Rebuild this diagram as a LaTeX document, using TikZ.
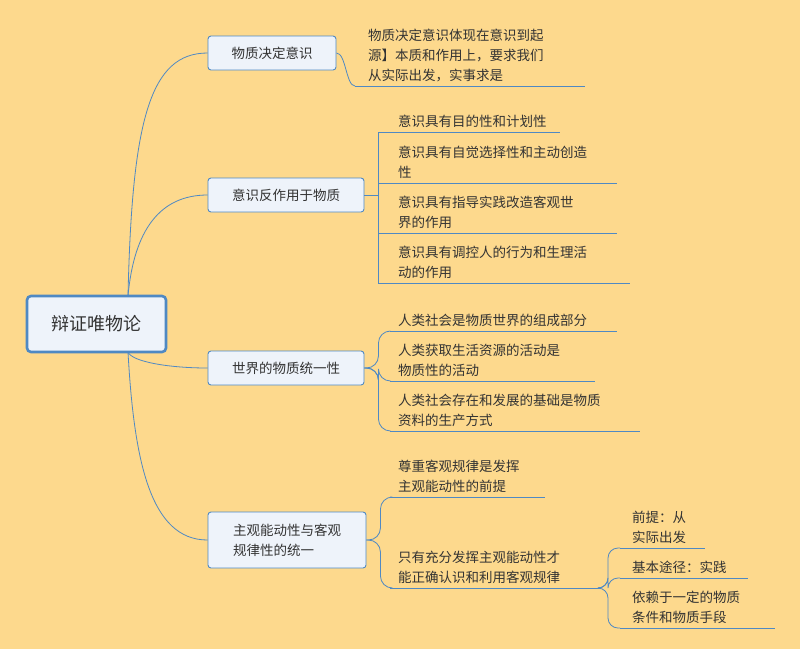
\documentclass[tikz,border=0pt]{standalone}
\usepackage{fontspec}
\setmainfont{Noto Sans CJK SC}
\usetikzlibrary{calc}
\definecolor{bg}{HTML}{FDD98D}
\definecolor{ln}{HTML}{4F89C3}
\definecolor{bx}{HTML}{EEF3FA}
\definecolor{tx}{HTML}{333333}
\tikzset{
  lbox/.style={draw=ln,fill=bx,rounded corners=3pt,line width=0.9pt,text=tx,font=\fontsize{13.5}{20}\selectfont,align=left,inner sep=0pt},
  rootbox/.style={draw=ln,fill=bx,rounded corners=4pt,line width=2.6pt,text=tx,font=\fontsize{18}{22}\selectfont,inner sep=0pt},
  conn/.style={draw=ln,line width=0.8pt},
  leaftext/.style={text=tx,font=\fontsize{13.5}{20}\selectfont,align=left,inner sep=0pt,anchor=south west}
}
\newcommand{\leaf}[6]{% name, x, y, xend, textoffset, text
  \coordinate (#1s) at (#2,#3);
  \coordinate (#1e) at (#4,#3);
  \node[leaftext] (#1) at (#2+#5,#3-4) {#6};
  \draw[conn] (#1s) -- (#1e);
}
\begin{document}
\begin{tikzpicture}[x=1pt,y=-1pt]
\fill[bg] (0,0) rectangle (800,649);
\useasboundingbox (0,0) rectangle (800,649);
\node[rootbox,minimum width=139,minimum height=56] (root) at (96.5,324) {辩证唯物论};
\coordinate (rt) at (128,296);
\coordinate (rb) at (128,352);
\node[lbox,minimum width=128,minimum height=34,align=center] (b1) at (272,53) {物质决定意识};
\node[lbox,minimum width=156,minimum height=34,align=center] (b2) at (286,195) {意识反作用于物质};
\node[lbox,minimum width=156,minimum height=34,align=center] (b3) at (286,368) {世界的物质统一性};
\node[lbox,minimum width=158,minimum height=56,align=left] (b4) at (287,540) {主观能动性与客观\\规律性的统一};
\draw[conn] (rt) .. controls (132,120) and (150,53) .. (b1.west);
\draw[conn] (rt) .. controls (134,230) and (160,195) .. (b2.west);
\draw[conn] (rb) .. controls (132,362) and (170,368) .. (b3.west);
\draw[conn] (rb) .. controls (134,460) and (150,540) .. (b4.west);
% branch 1
\leaf{a1}{355}{86}{585}{13}{物质决定意识体现在意识到起\\源】本质和作用上，要求我们\\从实际出发，实事求是}
\draw[conn] (b1.east) .. controls (346,53) and (346,86) .. (a1s);
% branch 2
\leaf{c1}{390}{132}{560}{8}{意识具有目的性和计划性}
\leaf{c2}{390}{183}{617}{8}{意识具有自觉选择性和主动创造\\性}
\leaf{c3}{390}{233}{617}{8}{意识具有指导实践改造客观世\\界的作用}
\leaf{c4}{390}{283}{630}{8}{意识具有调控人的行为和生理活\\动的作用}
\foreach \n in {c1,c2,c3,c4}{
  \draw[conn] (b2.east) .. controls (378,195) and (378,195) .. ($(b2.east)+(14,0)$) |- (\n s);
}
% branch 3
\leaf{d1}{390}{331}{617}{8}{人类社会是物质世界的组成部分}
\leaf{d2}{390}{381}{595}{8}{人类获取生活资源的活动是\\物质性的活动}
\leaf{d3}{390}{431}{640}{8}{人类社会存在和发展的基础是物质\\资料的生产方式}
\foreach \n in {d1,d2,d3}{
  \draw[conn,rounded corners=12pt] (b3.east) -- ($(b3.east)+(14,0)$) |- (\n s);
}
% branch 4
\leaf{e1}{390}{497}{545}{8}{尊重客观规律是发挥\\主观能动性的前提}
\leaf{e2}{390}{588}{600}{8}{只有充分发挥主观能动性才\\能正确认识和利用客观规律}
\foreach \n in {e1,e2}{
  \draw[conn,rounded corners=12pt] (b4.east) -- ($(b4.east)+(14,0)$) |- (\n s);
}
% sub of e2
\leaf{f1}{620}{548}{705}{12}{前提：从\\实际出发}
\leaf{f2}{620}{578}{748}{12}{基本途径：实践}
\leaf{f3}{620}{628}{775}{12}{依赖于一定的物质\\条件和物质手段}
\foreach \n in {f1,f2,f3}{
  \draw[conn,rounded corners=10pt] (e2e) -- ($(e2e)+(8,0)$) |- (\n s);
}
\end{tikzpicture}
\end{document}
